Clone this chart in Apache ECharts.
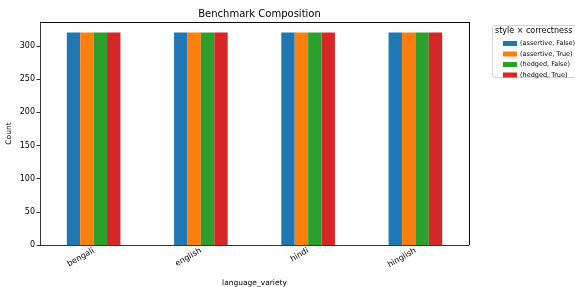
<!DOCTYPE html>
<html>
<head>
<meta charset="utf-8">
<script src="https://cdn.jsdelivr.net/npm/echarts@6/dist/echarts.min.js"></script>
<style>
  html, body { margin: 0; padding: 0; background: #fff; }
  #chart { width: 575px; height: 287px; }
</style>
</head>
<body>
<div id="chart"></div>
<script>
// data
const categories = ["bengali", "english", "hindi", "hinglish"];
const seriesNames = ["(assertive, False)", "(assertive, True)", "(hedged, False)", "(hedged, True)"];
const seriesValues = [
  [320, 320, 320, 320],
  [320, 320, 320, 320],
  [320, 320, 320, 320],
  [320, 320, 320, 320],
];
const yTicks = [0, 50, 100, 150, 200, 250, 300];
const colors = ["#1f77b4", "#ff7f0e", "#2ca02c", "#d62728"];

const font = "DejaVu Sans";
const chart = echarts.init(document.getElementById("chart"));

const series = seriesNames.map((name, i) => ({
  name: name,
  type: "bar",
  data: seriesValues[i],
  barGap: "0%",
  barCategoryGap: "50%",
  itemStyle: { color: colors[i] },
}));

const option = {
  animation: false,
  color: colors,
  textStyle: { fontFamily: font },
  title: {
    text: "Benchmark Composition",
    left: 254.5,
    textAlign: "center",
    top: 4,
    textStyle: { fontFamily: font, fontSize: 10, fontWeight: "normal", color: "#000" },
  },
  grid: { left: 40, right: 106, top: 22, bottom: 42, containLabel: false, outerBoundsMode: "none" },
  xAxis: {
    type: "category",
    data: categories,
    name: "language_variety",
    nameLocation: "middle",
    nameGap: 34,
    nameMoveOverlap: false,
    nameTextStyle: { fontFamily: font, fontSize: 7.5, color: "#000" },
    axisLine: { lineStyle: { color: "#000", width: 0.8 } },
    axisTick: { alignWithLabel: true, length: 3.5, customValues: [0, 1, 2, 3], lineStyle: { color: "#000", width: 0.8 } },
    axisLabel: { rotate: 30, fontFamily: font, fontSize: 8, color: "#000", margin: 5 },
    splitLine: { show: false },
  },
  yAxis: {
    type: "value",
    min: 0,
    max: 336,
    interval: 50,
    name: "Count",
    nameLocation: "middle",
    nameGap: 27,
    nameMoveOverlap: false,
    nameTextStyle: { fontFamily: font, fontSize: 7.5, color: "#000" },
    axisLine: { show: true, lineStyle: { color: "#000", width: 0.8 } },
    axisTick: { show: true, length: 3.5, customValues: yTicks, lineStyle: { color: "#000", width: 0.8 } },
    axisLabel: { fontFamily: font, fontSize: 8, color: "#000", margin: 5, customValues: yTicks },
    splitLine: { show: false },
  },
  legend: {
    orient: "vertical",
    left: 498,
    top: 35,
    itemWidth: 14,
    itemHeight: 5,
    itemGap: 3.5,
    icon: "rect",
    data: seriesNames,
    textStyle: { fontFamily: font, fontSize: 6.5, color: "#000", padding: [0, 0, 0, -2] },
  },
  graphic: [
    {
      type: "rect",
      shape: { x: 492.5, y: 25.5, width: 90, height: 52, r: 2 },
      style: { fill: "#fff", stroke: "#ccc", lineWidth: 0.8 },
      z: -1,
    },
    {
      type: "text",
      x: 495,
      y: 27,
      style: { text: "style × correctness", fontFamily: font, fontSize: 8, fill: "#000" },
    },
    {
      type: "rect",
      shape: { x: 469.5, y: 22, width: 0, height: 223 },
      style: { stroke: "#000", lineWidth: 0.8 },
    },
    {
      type: "rect",
      shape: { x: 40, y: 22.5, width: 429.5, height: 0 },
      style: { stroke: "#000", lineWidth: 0.8 },
    },
  ],
  series: series,
};

chart.setOption(option);
</script>
</body>
</html>
